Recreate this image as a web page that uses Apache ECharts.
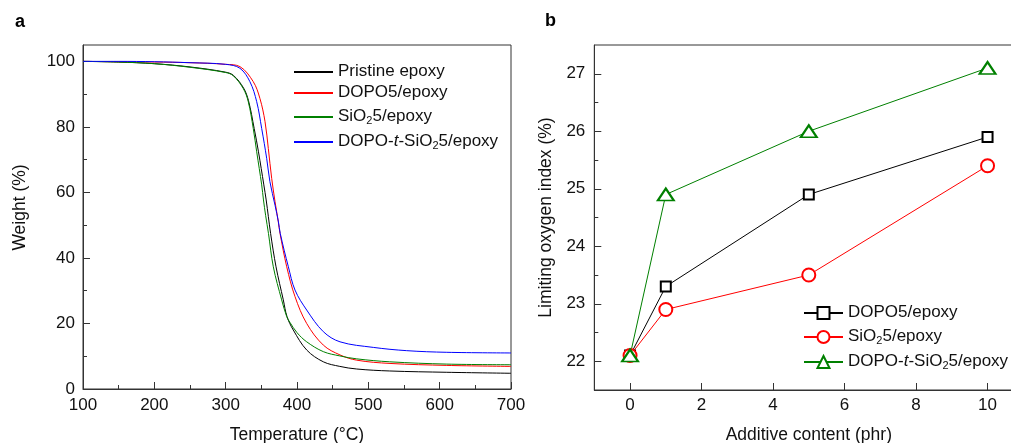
<!DOCTYPE html>
<html><head><meta charset="utf-8">
<script src="https://cdn.jsdelivr.net/npm/echarts@6/dist/echarts.min.js"></script>
<style>html,body{margin:0;padding:0;background:#fff}#c{width:1011px;height:443px}</style>
</head><body><div id="c"></div>
<script>
// ---- Panel a: TGA curves (temperature °C, weight %) ----
const tPristine = [100,150,200,250,300,311,325,332,340,346,353.5,356.8,363,370.6,380.8,386,394.8,413.6,436.9,460,483.7,530,610,700];
const wPristine = [100,99.8,99.3,98.3,96.7,95.7,91.9,88,79.5,72.4,62.3,57.7,47.5,37.3,27.2,22.1,18,11.9,8.3,6.9,6.1,5.5,5.1,4.8];
const tDOPO = [100,150,200,250,300,320,338.7,348,355.2,359.8,364.5,369.2,373.8,376.2,385.6,397.2,413.6,436.9,460.3,483.7,530.4,610,700];
const wDOPO = [100,99.9,99.8,99.6,99.1,98.4,93.8,88.7,81.6,73.4,64.3,57.2,51,47.5,37.3,28.2,20,13.4,10.4,8.8,7.8,7.2,6.9];
const tSiO2 = [100,150,200,250,300,310.7,324.7,331.7,338.7,343.5,350.5,353,356,360,366.8,378.5,385.6,390.2,400,413.6,436.9,460,483.7,530,610,700];
const wSiO2 = [100,99.8,99.3,98.2,96.6,95.6,91.7,87.7,79.5,72.4,62.3,57.7,53,47.5,37.3,27.2,22.1,20.3,17.2,14.4,11.4,10.1,9.2,8.3,7.6,7.4];
const tDOPOtSiO2 = [100,150,200,250,300,320,334,343.5,350.5,357.5,362,369.2,374,376.5,387.9,397.2,413.6,436.9,460.3,507,553.8,610,700];
const wDOPOtSiO2 = [100,100,99.9,99.6,99.1,97.9,93.8,87.7,79.5,70.4,63.3,56.1,51,47.5,37.3,30.2,24.1,17.5,14.4,12.7,11.7,11.2,11.0];

// ---- Panel b: limiting oxygen index ----
const additive = [0,1,5,10];
const loiDOPO = [22.1,23.3,24.9,25.9];
const loiSiO2 = [22.1,22.9,23.5,25.4];
const loiDOPOtSiO2 = [22.1,24.9,26.0,27.1];

// ---- tick values ----
const xTicksA = [100,200,300,400,500,600,700];
const xMinorA = [150,250,350,450,550,650];
const yTicksA = [0,20,40,60,80,100];
const yMinorA = [10,30,50,70,90];
const xTicksB = [0,2,4,6,8,10];
const yTicksB = [22,23,24,25,26,27];
const yMinorB = [22.5,23.5,24.5,25.5,26.5];

const FONT = '"Liberation Sans", Arial, sans-serif';
const AX = '#333';
const TXT = '#111';
const zip = (xs, ys) => xs.map((x, i) => [x, ys[i]]);

const legendLabels = {
  'Pristine epoxy (TGA)': '{m|Pristine epoxy}',
  'DOPO5/epoxy (TGA)': '{m|DOPO5/epoxy}',
  'SiO2 5/epoxy (TGA)': '{m|SiO}{s|2}{m|5/epoxy}',
  'DOPO-t-SiO2 5/epoxy (TGA)': '{m|DOPO-}{i|t}{m|-SiO}{s|2}{m|5/epoxy}',
  'DOPO5/epoxy (LOI)': '{m|DOPO5/epoxy}',
  'SiO2 5/epoxy (LOI)': '{m|SiO}{s|2}{m|5/epoxy}',
  'DOPO-t-SiO2 5/epoxy (LOI)': '{m|DOPO-}{i|t}{m|-SiO}{s|2}{m|5/epoxy}'
};
const rich = {
  m: {fontSize: 17, fontFamily: FONT, color: TXT, lineHeight: 18, verticalAlign: 'top'},
  i: {fontSize: 17, fontFamily: FONT, color: TXT, lineHeight: 18, verticalAlign: 'top', fontStyle: 'italic'},
  s: {fontSize: 11, fontFamily: FONT, color: TXT, lineHeight: 10, padding: [10, 0, 0, 0], verticalAlign: 'bottom'}
};

function majorAxis(grid, min, max, ticks, extra) {
  return Object.assign({
    type: 'value', gridIndex: grid, min: min, max: max,
    axisLine: {show: true, onZero: false, lineStyle: {color: AX, width: 1}},
    axisTick: {show: true, inside: true, length: 7, customValues: ticks, lineStyle: {color: AX, width: 1}},
    axisLabel: {show: true, customValues: ticks, fontSize: 17, fontFamily: FONT, color: TXT},
    splitLine: {show: false},
    minorTick: {show: false},
    nameLocation: 'middle',
    nameTextStyle: {fontSize: 17.5, fontFamily: FONT, color: TXT}
  }, extra);
}
function minorAxis(grid, min, max, ticks, extra) {
  return Object.assign({
    type: 'value', gridIndex: grid, min: min, max: max,
    axisLine: {show: false, onZero: false},
    axisTick: ticks ? {show: true, inside: true, length: 4, customValues: ticks, lineStyle: {color: AX, width: 1}} : {show: false},
    axisLabel: {show: false},
    splitLine: {show: false},
    minorTick: {show: false}
  }, extra);
}

const gridA = {left: 83, top: 45, width: 428, height: 344, outerBoundsMode: 'none', containLabel: false};
const gridB = {left: 594.3, top: 45, width: 429, height: 345, outerBoundsMode: 'none', containLabel: false};

const chart = echarts.init(document.getElementById('c'), null, {renderer: 'canvas'});
chart.setOption({
  animation: false,
  backgroundColor: '#fff',
  title: [
    {text: 'a', left: 15, top: 13, padding: 0, textStyle: {fontSize: 18, fontWeight: 'bold', fontFamily: FONT, color: '#000'}},
    {text: 'b', left: 545, top: 12, padding: 0, textStyle: {fontSize: 18, fontWeight: 'bold', fontFamily: FONT, color: '#000'}}
  ],
  grid: [
    Object.assign({show: true, borderColor: AX, borderWidth: 1, backgroundColor: 'transparent'}, gridA),
    Object.assign({show: true, borderColor: AX, borderWidth: 1, backgroundColor: 'transparent'}, gridB),
    Object.assign({show: false}, gridA),   // overlay for minor ticks of panel a
    Object.assign({show: false}, gridB)    // overlay for minor ticks of panel b
  ],
  xAxis: [
    majorAxis(0, 100, 700, xTicksA, {position: 'bottom', name: 'Temperature (°C)', nameGap: 37, axisLabel: {customValues: xTicksA, fontSize: 17, fontFamily: FONT, color: TXT, margin: 7.5}}),
    majorAxis(1, -1, 11, xTicksB, {position: 'bottom', name: 'Additive content (phr)', nameGap: 36, axisLabel: {customValues: xTicksB, fontSize: 17, fontFamily: FONT, color: TXT, margin: 7}}),
    minorAxis(2, 100, 700, xMinorA, {position: 'bottom'}),
    minorAxis(3, -1, 11, null, {position: 'bottom'})
  ],
  yAxis: [
    majorAxis(0, 0, 105, yTicksA, {position: 'left', name: 'Weight (%)', nameGap: 53.5,
      nameTextStyle: {fontSize: 17.5, fontFamily: FONT, color: TXT, padding: [0, 0, 0, 19]},
      axisLabel: {customValues: yTicksA, fontSize: 17, fontFamily: FONT, color: TXT, margin: 8}}),
    majorAxis(1, 21.5, 27.5, yTicksB, {position: 'left', name: 'Limiting oxygen index (%)', nameGap: 39,
      axisLabel: {customValues: yTicksB, fontSize: 17, fontFamily: FONT, color: TXT, margin: 9}}),
    minorAxis(2, 0, 105, yMinorA, {position: 'left'}),
    minorAxis(3, 21.5, 27.5, yMinorB, {position: 'left'})
  ],
  legend: [
    {
      orient: 'vertical', left: 293, top: 63, padding: 0, itemGap: 4,
      itemWidth: 39, itemHeight: 14, align: 'left', selectedMode: false,
      itemStyle: {opacity: 0},
      data: ['Pristine epoxy (TGA)', 'DOPO5/epoxy (TGA)', 'SiO2 5/epoxy (TGA)', 'DOPO-t-SiO2 5/epoxy (TGA)'],
      formatter: n => legendLabels[n],
      textStyle: {fontSize: 17, fontFamily: FONT, color: TXT, rich: rich}
    },
    {
      orient: 'vertical', left: 803, top: 304, padding: 0, itemGap: 4,
      itemWidth: 39, itemHeight: 15, align: 'left', selectedMode: false,
      data: ['DOPO5/epoxy (LOI)', 'SiO2 5/epoxy (LOI)', 'DOPO-t-SiO2 5/epoxy (LOI)'],
      formatter: n => legendLabels[n],
      textStyle: {fontSize: 17, fontFamily: FONT, color: TXT, rich: rich}
    }
  ],
  series: [
    {name: 'Pristine epoxy (TGA)', type: 'line', xAxisIndex: 0, yAxisIndex: 0, data: zip(tPristine, wPristine),
      symbol: 'none', smooth: 0.35, lineStyle: {width: 1, color: '#000000'}, itemStyle: {color: '#000000'}},
    {name: 'DOPO5/epoxy (TGA)', type: 'line', xAxisIndex: 0, yAxisIndex: 0, data: zip(tDOPO, wDOPO),
      symbol: 'none', smooth: 0.35, lineStyle: {width: 1, color: '#ff0000'}, itemStyle: {color: '#ff0000'}},
    {name: 'SiO2 5/epoxy (TGA)', type: 'line', xAxisIndex: 0, yAxisIndex: 0, data: zip(tSiO2, wSiO2),
      symbol: 'none', smooth: 0.35, lineStyle: {width: 1, color: '#008000'}, itemStyle: {color: '#008000'}},
    {name: 'DOPO-t-SiO2 5/epoxy (TGA)', type: 'line', xAxisIndex: 0, yAxisIndex: 0, data: zip(tDOPOtSiO2, wDOPOtSiO2),
      symbol: 'none', smooth: 0.35, lineStyle: {width: 1, color: '#0000ff'}, itemStyle: {color: '#0000ff'}},
    {name: 'DOPO5/epoxy (LOI)', type: 'line', xAxisIndex: 1, yAxisIndex: 1, data: zip(additive, loiDOPO),
      symbol: 'emptyRect', symbolSize: 10, showSymbol: true, lineStyle: {width: 1, color: '#000000'}, itemStyle: {color: '#000000', borderWidth: 1.5}},
    {name: 'SiO2 5/epoxy (LOI)', type: 'line', xAxisIndex: 1, yAxisIndex: 1, data: zip(additive, loiSiO2),
      symbol: 'emptyCircle', symbolSize: 13, showSymbol: true, lineStyle: {width: 1, color: '#ff0000'}, itemStyle: {color: '#ff0000', borderWidth: 1.5}},
    {name: 'DOPO-t-SiO2 5/epoxy (LOI)', type: 'line', xAxisIndex: 1, yAxisIndex: 1, data: zip(additive, loiDOPOtSiO2),
      symbol: 'emptyTriangle', symbolSize: [16, 12], showSymbol: true, lineStyle: {width: 1, color: '#008000'}, itemStyle: {color: '#008000', borderWidth: 1.5}}
  ]
});
</script>
</body></html>
